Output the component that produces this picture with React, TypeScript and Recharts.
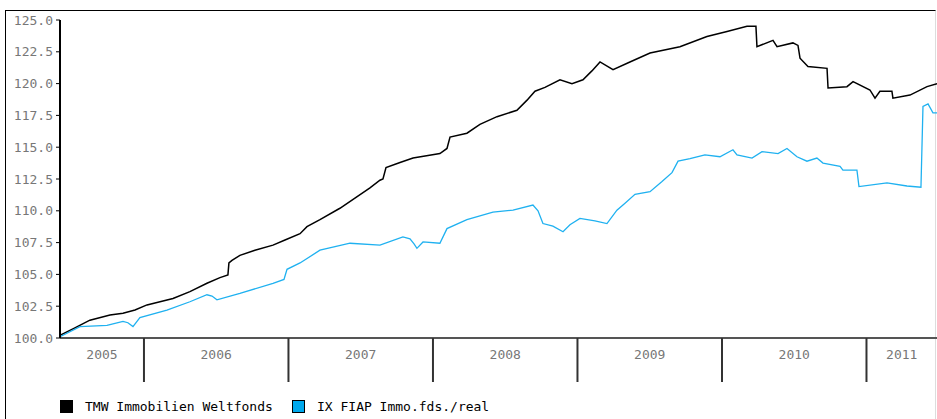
import React from 'react';
import { LineChart, Line, XAxis, YAxis } from 'recharts';

// Fractional-year dates and index values
const tmwDates = [
  2005.419, 2005.522, 2005.626, 2005.765, 2005.855, 2005.938, 2006.021, 2006.111, 2006.201, 2006.318,
  2006.436, 2006.526, 2006.581, 2006.588, 2006.609, 2006.664, 2006.768, 2006.893, 2006.976, 2007.080,
  2007.128, 2007.218, 2007.356, 2007.460, 2007.564, 2007.633, 2007.654, 2007.675, 2007.772, 2007.862,
  2007.945, 2008.048, 2008.097, 2008.118, 2008.235, 2008.325, 2008.443, 2008.581, 2008.651, 2008.706,
  2008.775, 2008.879, 2008.962, 2009.038, 2009.100, 2009.156, 2009.246, 2009.363, 2009.502, 2009.709,
  2009.896, 2010.035, 2010.173, 2010.235, 2010.242, 2010.353, 2010.381, 2010.491, 2010.526, 2010.540,
  2010.595, 2010.727, 2010.734, 2010.865, 2010.907, 2011.024, 2011.059, 2011.093, 2011.176, 2011.183,
  2011.301, 2011.419, 2011.488,
];
const tmwValues = [
  100.2, 100.8, 101.4, 101.8, 101.95, 102.2, 102.6, 102.85, 103.1, 103.65,
  104.3, 104.75, 104.95, 105.9, 106.1, 106.5, 106.9, 107.3, 107.7, 108.2,
  108.75, 109.3, 110.2, 111.0, 111.8, 112.4, 112.5, 113.4, 113.8, 114.15,
  114.3, 114.5, 114.9, 115.8, 116.1, 116.8, 117.4, 117.9, 118.7, 119.4,
  119.7, 120.3, 120.0, 120.3, 121.0, 121.7, 121.1, 121.7, 122.4, 122.9,
  123.7, 124.1, 124.5, 124.5, 122.9, 123.4, 122.9, 123.2, 123.0, 122.0,
  121.35, 121.2, 119.65, 119.76, 120.15, 119.5, 118.85, 119.4, 119.4, 118.85,
  119.1, 119.76, 120.0,
];

const ixDates = [
  2005.419, 2005.557, 2005.744, 2005.855, 2005.889, 2005.924, 2005.972, 2006.159, 2006.318, 2006.436,
  2006.471, 2006.505, 2006.664, 2006.893, 2006.969, 2006.990, 2007.080, 2007.218, 2007.426, 2007.633,
  2007.792, 2007.841, 2007.869, 2007.889, 2007.931, 2008.048, 2008.097, 2008.235, 2008.415, 2008.554,
  2008.692, 2008.727, 2008.761, 2008.830, 2008.900, 2008.948, 2009.017, 2009.121, 2009.204, 2009.273,
  2009.329, 2009.398, 2009.502, 2009.585, 2009.654, 2009.696, 2009.779, 2009.882, 2009.986, 2010.076,
  2010.104, 2010.208, 2010.277, 2010.388, 2010.450, 2010.519, 2010.588, 2010.657, 2010.699, 2010.817,
  2010.837, 2010.934, 2010.948, 2011.142, 2011.280, 2011.377, 2011.391, 2011.426, 2011.460, 2011.488,
];
const ixValues = [
  100.1, 100.9, 101.0, 101.3, 101.2, 100.9, 101.6, 102.2, 102.85, 103.4,
  103.3, 103.0, 103.5, 104.3, 104.6, 105.4, 105.9, 106.9, 107.45, 107.3,
  107.95, 107.8, 107.4, 107.05, 107.55, 107.45, 108.6, 109.3, 109.9, 110.05,
  110.45, 110.0, 109.0, 108.8, 108.35, 108.9, 109.4, 109.2, 109.0, 110.05,
  110.6, 111.3, 111.5, 112.3, 113.0, 113.9, 114.1, 114.4, 114.25, 114.8,
  114.4, 114.15, 114.65, 114.5, 114.9, 114.25, 113.9, 114.15, 113.75, 113.5,
  113.2, 113.2, 111.9, 112.2, 111.95, 111.85, 118.2, 118.4, 117.7, 117.7,
];

const yearLabels = ['2005', '2006', '2007', '2008', '2009', '2010', '2011'];
const yearStarts = [2006, 2007, 2008, 2009, 2010, 2011];
const yTicks = [100, 102.5, 105, 107.5, 110, 112.5, 115, 117.5, 120, 122.5, 125];
const domainStart = 2005.419;
const domainEnd = 2011.488;

const seriesNames = ['TMW Immobilien Weltfonds', 'IX FIAP Immo.fds./real'];
const seriesColors = ['#000000', '#1fb1f0'];
const legendSwatch = ['#000000', '#00a8ec'];

const tmwData = tmwDates.map((t, i) => ({ t, v: tmwValues[i] }));
const ixData = ixDates.map((t, i) => ({ t, v: ixValues[i] }));

// label positions: middle of each (visible part of a) year
const labelTicks = yearLabels.map((y) => {
  const yr = Number(y);
  const a = Math.max(yr, domainStart);
  const b = Math.min(yr + 1, domainEnd);
  return (a + b) / 2;
});
const allTicks = [...yearStarts, ...labelTicks].sort((a, b) => a - b);

const FONT = '"DejaVu Sans Mono", monospace';

const YearTick = (props: any) => {
  const { x, y, payload } = props;
  const v = payload.value as number;
  if (yearStarts.includes(v)) {
    return <line x1={x} y1={y} x2={x} y2={y + 44} stroke="#333" strokeWidth={2} />;
  }
  const idx = labelTicks.indexOf(v);
  return (
    <text x={x} y={y + 21} textAnchor="middle" fill="#777" fontSize={13} fontFamily={FONT}>
      {yearLabels[idx]}
    </text>
  );
};

export default function App() {
  return (
    <div style={{ position: 'absolute', left: 0, top: 0, width: 937, height: 419, background: '#fff' }}>
      <div
        style={{
          position: 'absolute',
          left: 5,
          top: 10,
          width: 931,
          height: 409,
          borderTop: '1.5px solid #000',
          borderLeft: '1.5px solid #000',
          borderRight: '1px solid #ddd',
          boxSizing: 'border-box',
        }}
      />
      <div style={{ position: 'absolute', left: 0, top: 0 }}>
        <LineChart width={937} height={419} margin={{ top: 20, right: 0, left: 0, bottom: 0 }}>
          <XAxis
            dataKey="t"
            type="number"
            domain={[domainStart, domainEnd]}
            allowDataOverflow
            ticks={allTicks}
            interval={0}
            tick={<YearTick />}
            tickSize={0}
            tickMargin={0}
            height={81}
            axisLine={{ stroke: '#555', strokeWidth: 2 }}
            tickLine={false}
          />
          <YAxis
            type="number"
            domain={[100, 125]}
            ticks={yTicks}
            interval={0}
            width={60}
            tickFormatter={(v: number) => v.toFixed(1)}
            tickSize={4}
            tickMargin={3}
            axisLine={{ stroke: '#000', strokeWidth: 2 }}
            tickLine={{ stroke: '#000', strokeWidth: 1 }}
            tick={{ fill: '#777', fontSize: 13, fontFamily: FONT }}
          />
          <Line
            data={tmwData}
            dataKey="v"
            type="linear"
            stroke={seriesColors[0]}
            strokeWidth={1.5}
            dot={false}
            isAnimationActive={false}
          />
          <Line
            data={ixData}
            dataKey="v"
            type="linear"
            stroke={seriesColors[1]}
            strokeWidth={1.3}
            dot={false}
            isAnimationActive={false}
          />
        </LineChart>
      </div>
      {seriesNames.map((name, i) => (
        <div
          key={name}
          style={{
            position: 'absolute',
            left: i === 0 ? 60 : 292,
            top: 399,
            display: 'flex',
            alignItems: 'center',
            fontFamily: FONT,
            fontSize: 13,
            color: '#000',
          }}
        >
          <span
            style={{
              display: 'inline-block',
              width: 13,
              height: 13,
              background: legendSwatch[i],
              border: '1px solid #000',
              boxSizing: 'border-box',
              marginRight: 12,
            }}
          />
          <span>{name}</span>
        </div>
      ))}
    </div>
  );
}
